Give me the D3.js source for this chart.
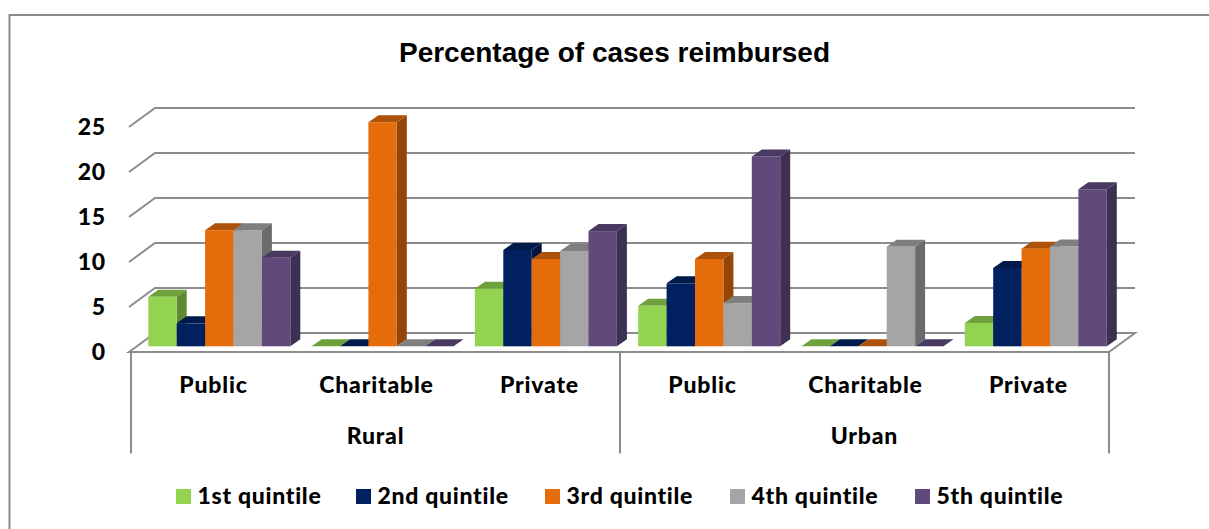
<!DOCTYPE html>
<html><head><meta charset="utf-8">
<script src="https://cdn.jsdelivr.net/npm/d3@7/dist/d3.min.js"></script>
<style>html,body{margin:0;padding:0;background:#fff}svg{display:block}
text{font-family:Lato,sans-serif;font-weight:900;fill:#000;letter-spacing:.8px}</style></head><body>
<svg id="c" width="1209" height="529"></svg>
<script>
const chartTitle = "Percentage of cases reimbursed";
const settings = ["Rural","Urban"];
const categories = ["Public","Charitable","Private","Public","Charitable","Private"];
const seriesNames = ["1st quintile","2nd quintile","3rd quintile","4th quintile","5th quintile"];
const q1 = [5.5,0,6.4,4.5,0,2.6];
const q2 = [2.55,0,10.7,7.0,0,8.7];
const q3 = [12.9,24.9,9.7,9.7,0,10.85];
const q4 = [12.9,0,10.6,4.8,11.07,11.1];
const q5 = [9.85,0,12.8,21.1,0,17.45];
const series = [q1,q2,q3,q4,q5];
const yTicks = [0,5,10,15,20,25];
const frontColors = ["#92d34f","#00205f","#e46c0a","#a5a5a5","#604a7b"];
const topColors   = ["#6fa03c","#001a4a","#ad5208","#7f7f7f","#4a3960"];
const sideColors  = ["#5f8a33","#00163f","#934607","#6b6b6b","#3e3050"];
const gridColor = "#8c8c8c";

const svg = d3.select("#c");
svg.append("path").attr("d","M9.5,529V15H1209").attr("fill","none").attr("stroke",gridColor).attr("stroke-width",2);

const plotL=131, plotR=1109, floorFront=352, barBase=346.3;
const y = d3.scaleLinear().domain([0,25]).range([barBase,barBase-225]);
const x0 = d3.scaleBand().domain(d3.range(categories.length)).range([plotL,plotL+163.3*categories.length]);
const barW = 28.4, barOff = 17.3;
const x1 = d3.scaleBand().domain(d3.range(series.length)).range([barOff,barOff+barW*series.length]);
const dDx=10, dDy=7, wallDx=24, wallDy=19;
const gy = v => y(v)+floorFront-barBase;

const g = svg.append("g").attr("fill","none").attr("stroke",gridColor).attr("stroke-width",2);
yTicks.forEach(v=>{
  if(v===0) return;
  g.append("path").attr("d",`M${plotL-2},${gy(v)}L${plotL+wallDx},${gy(v)-wallDy}H${plotR+wallDx+2}`);
});
g.append("path").attr("d",`M${plotL-2},${floorFront}L${plotL+wallDx},${floorFront-wallDy}H${plotR+wallDx+2}L${plotR},${floorFront}Z`).attr("stroke-linejoin","miter");

categories.forEach((c,i)=>{
  series.forEach((s,k)=>{
    const xl = x0(i)+x1(k), xr = xl+x1.bandwidth(), yt = y(s[i]);
    const bar = svg.append("g");
    bar.append("path").attr("fill",topColors[k])
      .attr("d",`M${xl},${yt}L${xl+dDx},${yt-dDy}H${xr+dDx}L${xr},${yt}Z`);
    if(s[i]>0){
      bar.append("path").attr("fill",sideColors[k])
        .attr("d",`M${xr},${yt}L${xr+dDx},${yt-dDy}V${barBase-dDy}L${xr},${barBase}Z`);
      bar.append("rect").attr("x",xl).attr("y",yt).attr("width",xr-xl).attr("height",barBase-yt).attr("fill",frontColors[k]);
    }
  });
});

const ax = svg.append("g").attr("stroke",gridColor).attr("stroke-width",2);
[plotL,(plotL+plotR)/2,plotR].forEach(v=>ax.append("line").attr("x1",v).attr("x2",v).attr("y1",floorFront).attr("y2",453.5));

svg.append("g").selectAll("text").data(yTicks).join("text")
  .attr("x",106).attr("y",v=>gy(v)+8).attr("text-anchor","end").attr("font-size",23).text(d=>d);

const catStep=(plotR-plotL)/categories.length;
svg.append("g").selectAll("text").data(categories).join("text")
  .attr("x",(d,i)=>plotL+catStep*(i+.5)+1).attr("y",393).attr("text-anchor","middle").attr("font-size",23).text(d=>d);
svg.append("g").selectAll("text").data(settings).join("text")
  .attr("x",(d,i)=>plotL+(plotR-plotL)*(i*2+1)/4).attr("y",444).attr("text-anchor","middle").attr("font-size",23).text(d=>d);

svg.append("text").attr("x",614.5).attr("y",62).attr("text-anchor","middle")
  .style("font-family","'Liberation Sans',Arial,sans-serif").style("font-weight",700).style("letter-spacing","0")
  .attr("font-size",28).text(chartTitle);

// legend entries are laid out left to right with these starting offsets
const legendStart = 176, legendSteps = [0,180,369,554,739];
const lg = svg.append("g").selectAll("g").data(seriesNames).join("g")
  .attr("transform",(d,i)=>`translate(${legendStart+legendSteps[i]},489)`);
lg.append("rect").attr("width",15).attr("height",15).attr("fill",(d,i)=>frontColors[i]);
lg.append("text").attr("x",21.5).attr("y",15).attr("font-size",23).style("letter-spacing",".7px").text(d=>d);
</script></body></html>
